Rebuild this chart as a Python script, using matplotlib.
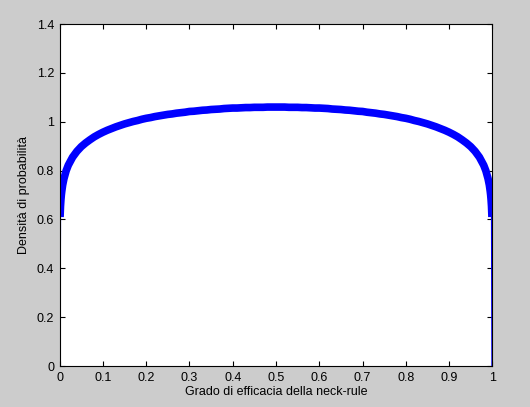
import matplotlib
matplotlib.use("Agg")
import matplotlib.pyplot as plt

plt.rcParams['font.family'] = ['Liberation Sans', 'DejaVu Sans']

# Data (left half + mirrored right half)
x_left = [0.0, 0.001, 0.002, 0.003, 0.004, 0.005, 0.007, 0.01, 0.015, 0.02, 0.03, 0.04,
          0.05, 0.06, 0.07, 0.08, 0.09, 0.10, 0.11, 0.12, 0.13, 0.14, 0.15, 0.16,
          0.17, 0.18, 0.19, 0.20, 0.21, 0.22, 0.23, 0.24, 0.25, 0.26, 0.27, 0.28,
          0.29, 0.30, 0.31, 0.32, 0.33, 0.34, 0.35, 0.36, 0.37, 0.38, 0.39, 0.40,
          0.41, 0.42, 0.43, 0.44, 0.45, 0.46, 0.47, 0.48, 0.49, 0.50]
y_left = [0.0, 0.610, 0.654, 0.681, 0.701, 0.716, 0.741, 0.767, 0.799, 0.822, 0.855, 0.879,
          0.898, 0.913, 0.926, 0.938, 0.948, 0.957, 0.965, 0.972, 0.979, 0.985, 0.991, 0.996,
          1.001, 1.005, 1.010, 1.014, 1.017, 1.021, 1.024, 1.027, 1.030, 1.032, 1.035, 1.037,
          1.039, 1.042, 1.043, 1.045, 1.047, 1.048, 1.050, 1.051, 1.052, 1.054, 1.055, 1.056,
          1.056, 1.057, 1.058, 1.058, 1.059, 1.059, 1.059, 1.060, 1.060, 1.060]
x_vals = x_left + [round(1 - v, 3) for v in reversed(x_left[:-1])]
y_vals = y_left + list(reversed(y_left[:-1]))

xticks = [0, 0.1, 0.2, 0.3, 0.4, 0.5, 0.6, 0.7, 0.8, 0.9, 1]
xticklabels = ['0', '0.1', '0.2', '0.3', '0.4', '0.5', '0.6', '0.7', '0.8', '0.9', '1']
yticks = [0, 0.2, 0.4, 0.6, 0.8, 1.0, 1.2, 1.4]
yticklabels = ['0', '0.2', '0.4', '0.6', '0.8', '1', '1.2', '1.4']

fig = plt.figure(figsize=(5.30, 4.07), dpi=100, facecolor='#cccccc')
ax = fig.add_axes([0.1125, 0.1007, 0.8165, 0.8403])
ax.set_facecolor('white')

# thin connecting line through all points, thick line through interior points
ax.plot(x_vals, y_vals, color='#0000ff', lw=1.5, solid_capstyle='butt')
ax.plot(x_vals[1:-1], y_vals[1:-1], color='#0000ff', lw=5.5,
        solid_capstyle='butt', solid_joinstyle='miter')

ax.set_xlim(0, 1)
ax.set_ylim(0, 1.4)
ax.set_xticks(xticks)
ax.set_xticklabels(xticklabels)
ax.set_yticks(yticks)
ax.set_yticklabels(yticklabels)
ax.tick_params(direction='in', length=3.5, width=0.8, top=True, right=True,
               labelsize=9, pad=4, colors='black')
for s in ax.spines.values():
    s.set_linewidth(0.8)
    s.set_color('black')

ax.set_xlabel('Grado di efficacia della neck-rule', fontsize=9, labelpad=2)
ax.set_ylabel('Densità di probabilità', fontsize=9, labelpad=5)

fig.savefig('out.png', dpi=100, facecolor='#cccccc')
